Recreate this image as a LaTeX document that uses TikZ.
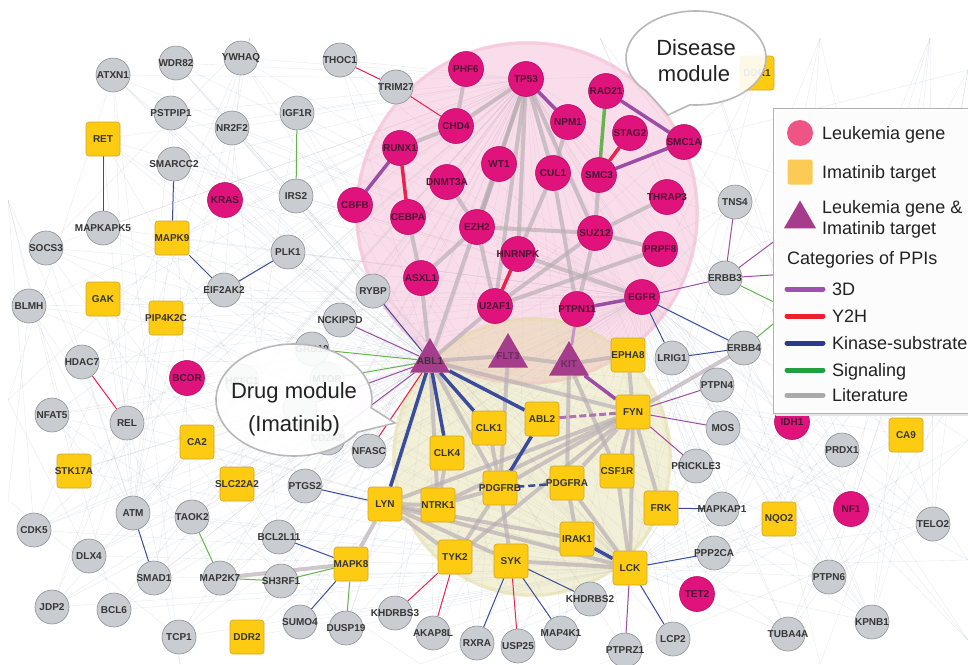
\documentclass[tikz,border=0pt]{standalone}
\usepackage{fontspec}
\setmainfont{Liberation Sans}
\usetikzlibrary{shapes.geometric}
\pgfdeclarelayer{mesh}
\pgfdeclarelayer{disk}
\pgfdeclarelayer{edges}
\pgfdeclarelayer{top}
\pgfsetlayers{mesh,disk,edges,main,top}
\definecolor{gfill}{HTML}{C9CCD0}
\definecolor{gdraw}{HTML}{8C9096}
\definecolor{pfill}{HTML}{E0127B}
\definecolor{pdraw}{HTML}{B01066}
\definecolor{yfill}{HTML}{FDCB12}
\definecolor{ydraw}{HTML}{CFA52C}
\definecolor{tfill}{HTML}{A63C8C}
\definecolor{labc}{HTML}{363636}
\definecolor{plab}{HTML}{4E1434}
\definecolor{tlab}{HTML}{6B2D5E}
\definecolor{c3d}{HTML}{9C4DA5}
\definecolor{cy2h}{HTML}{E8234F}
\definecolor{ckin}{HTML}{3A4C9C}
\definecolor{csig}{HTML}{63B54C}
\definecolor{clit}{HTML}{B8AEB4}
\definecolor{meshc}{HTML}{8E9AAE}
\definecolor{diskp}{HTML}{F3A7C8}
\definecolor{disky}{HTML}{E3DA9E}
\definecolor{legp}{HTML}{EE5584}
\definecolor{legy}{HTML}{FBCB55}
\definecolor{legc}{HTML}{222222}
\definecolor{lg3d}{HTML}{A050B0}
\definecolor{lgy2h}{HTML}{EE2030}
\definecolor{lgkin}{HTML}{2B3990}
\definecolor{lgsig}{HTML}{20A040}
\definecolor{lglit}{HTML}{AAAAAA}
\newcommand{\lf}{\fontsize{10}{11}\selectfont\bfseries}
\newcommand{\zw}[1]{\makebox[0pt]{#1}}
\newcommand{\mkG}[2]{\node[gn] (#1) at (#2) {\zw{#1}};}
\newcommand{\mkP}[2]{\node[pn] (#1) at (#2) {\zw{#1}};}
\newcommand{\mkY}[2]{\node[yn] (#1) at (#2) {\zw{#1}};}
\tikzset{
 gn/.style={circle, draw=gdraw, fill=gfill, line width=0.6pt, minimum size=34pt, inner sep=0pt, font=\lf, text=labc},
 pn/.style={circle, draw=pdraw, fill=pfill, line width=0.6pt, minimum size=35pt, inner sep=0pt, font=\lf, text=plab},
 yn/.style={rectangle, rounded corners=3pt, draw=ydraw, fill=yfill, line width=0.6pt, minimum size=34pt, inner sep=0pt, font=\lf, text=labc},
 tn/.style={regular polygon, regular polygon sides=3, fill=tfill, minimum size=46pt, inner sep=0pt, font=\lf, text=tlab},
 meshln/.style={draw=meshc, line width=0.35pt, opacity=0.22},
 lit/.style={draw=clit, line width=4pt, opacity=0.68},
 tdd/.style={draw=c3d, line width=1pt},
 TDD/.style={draw=c3d, line width=3.5pt},
 yh/.style={draw=cy2h, line width=1pt},
 YH/.style={draw=cy2h, line width=3.5pt},
 kin/.style={draw=ckin, line width=1pt},
 KIN/.style={draw=ckin, line width=3.5pt},
 sig/.style={draw=csig, line width=1pt},
 SIG/.style={draw=csig, line width=3.5pt},
 bubble/.style={fill=white, fill opacity=0.9, draw=black!28, line width=1.6pt},
 bubtxt/.style={font=\fontsize{22}{26}\selectfont, text=legc, anchor=base, inner sep=0pt},
 legtxt/.style={font=\fontsize{18}{20}\selectfont, text=legc, anchor=base west, inner sep=0pt},
 legln/.style={line width=5pt, line cap=round},
}
\begin{document}
\begin{tikzpicture}[x=1pt,y=-1pt]
\useasboundingbox (0,0) rectangle (968,664);
% ---------- nodes ----------
\mkG{ATXN1}{113,75}
\mkG{WDR82}{176,63}
\mkG{YWHAQ}{241,58}
\mkG{THOC1}{340,60}
\mkG{TRIM27}{396,87}
\mkG{PSTPIP1}{171,113}
\mkG{NR2F2}{232,128}
\mkG{IGF1R}{297,113}
\mkG{IRS2}{296,196}
\mkG{SMARCC2}{174,164}
\mkG{MAPKAPK5}{103,228}
\mkG{SOCS3}{46,248}
\mkG{PLK1}{288,252}
\mkG{EIF2AK2}{224,290}
\mkG{BLMH}{29,306}
\mkG{RYBP}{373,291}
\mkG{NCKIPSD}{340,320}
\mkG{GRB10}{312,349}
\mkG{MTOR}{327,379}
\mkG{HCFC1}{242,381}
\mkG{CD2AP}{328,438}
\node[gn] (pnnx) at (300,408) {};
\mkG{HDAC7}{82,362}
\mkG{NFAT5}{52,415}
\mkG{REL}{127,423}
\mkG{NFASC}{369,451}
\mkG{PTGS2}{305,486}
\mkG{ATM}{133,513}
\mkG{TAOK2}{192,517}
\mkG{CDK5}{34,530}
\mkG{BCL2L11}{279,537}
\mkG{DLX4}{89,556}
\mkG{SMAD1}{154,578}
\mkG{MAP2K7}{220,578}
\mkG{SH3RF1}{281,581}
\mkG{JDP2}{52,607}
\mkG{BCL6}{114,610}
\mkG{SUMO4}{300,622}
\mkG{TCP1}{179,637}
\mkG{DUSP19}{346,628}
\mkG{KHDRBS3}{395,613}
\mkG{AKAP8L}{433,633}
\mkG{RXRA}{477,643}
\mkG{USP25}{518,646}
\mkG{MAP4K1}{561,633}
\mkG{KHDRBS2}{590,599}
\mkG{PTPRZ1}{625,650}
\mkG{LCP2}{673,639}
\mkG{PPP2CA}{714,553}
\mkG{TUBA4A}{788,634}
\mkG{KPNB1}{872,622}
\mkG{PTPN6}{829,577}
\mkG{TELO2}{933,524}
\mkG{MAPKAP1}{722,509}
\mkG{PRICKLE3}{696,466}
\mkG{PRDX1}{842,450}
\mkG{MOS}{723,428}
\mkG{PTPN4}{717,385}
\mkG{LRIG1}{672,358}
\mkG{ERBB4}{744,348}
\mkG{ERBB3}{725,278}
\mkG{TNS4}{735,202}
\mkG{VAV3}{803,273}
\mkG{HDAC6}{938,285}
\node[gn] (dapx) at (792,228) {};
\node[gn] (nrgx) at (790,310) {};
\node[gn] (gx1) at (920,350) {};
\node[gn] (gx2) at (947,170) {};
\node[gn] (gx3) at (833,183) {};
\node[pn] (px1) at (858,302) {};
% pink
\mkP{PHF6}{466,69}
\mkP{TP53}{526,79}
\mkP{RAD21}{606,91}
\mkP{CHD4}{456,126}
\mkP{NPM1}{568,122}
\mkP{STAG2}{630,133}
\mkP{SMC1A}{684,142}
\mkP{RUNX1}{400,148}
\mkP{WT1}{499,164}
\mkP{CUL1}{553,173}
\mkP{SMC3}{599,175}
\mkP{DNMT3A}{447,182}
\mkP{THRAP3}{667,197}
\mkP{CBFB}{355,205}
\mkP{CEBPA}{408,217}
\mkP{EZH2}{477,227}
\mkP{SUZ12}{595,233}
\mkP{PRPF8}{660,249}
\mkP{HNRNPK}{518,254}
\mkP{ASXL1}{421,278}
\mkP{U2AF1}{495,306}
\mkP{PTPN11}{577,309}
\mkP{EGFR}{642,297}
\mkP{KRAS}{225,200}
\mkP{BCOR}{187,378}
\mkP{IDH1}{792,422}
\mkP{NF1}{851,509}
\mkP{TET2}{697,594}
% yellow
\mkY{RET}{103,139}
\mkY{MAPK9}{172,238}
\mkY{GAK}{103,299}
\mkY{PIP4K2C}{166,318}
\mkY{CA2}{197,442}
\mkY{STK17A}{74,471}
\mkY{SLC22A2}{237,484}
\mkY{EPHA8}{628,355}
\mkY{CLK1}{489,428}
\mkY{ABL2}{542,419}
\mkY{FYN}{633,412}
\mkY{CLK4}{447,453}
\mkY{CSF1R}{617,471}
\mkY{PDGFRB}{500,488}
\mkY{PDGFRA}{567,483}
\mkY{LYN}{385,504}
\mkY{NTRK1}{438,505}
\mkY{FRK}{661,508}
\mkY{NQO2}{779,519}
\mkY{IRAK1}{577,539}
\mkY{MAPK8}{351,564}
\mkY{TYK2}{455,557}
\mkY{SYK}{511,561}
\mkY{LCK}{630,568}
\mkY{DDR2}{247,637}
\mkY{CA9}{906,435}
\mkY{DDR1}{757,73}
% triangles
\node[tn, text=labc] (ABL1) at (430,361) {\zw{ABL1}};
\node[tn] (FLT3) at (508,356) {\zw{FLT3}};
\node[tn] (KIT) at (569,364) {\zw{KIT}};
% ---------- border points for the background mesh ----------
\coordinate (r1) at (968,70);
\coordinate (r2) at (968,150);
\coordinate (r3) at (968,240);
\coordinate (r4) at (968,300);
\coordinate (r5) at (968,380);
\coordinate (r6) at (968,440);
\coordinate (r7) at (968,560);
\coordinate (r8) at (968,640);
\coordinate (t1) at (820,38);
\coordinate (t2) at (700,38);
\coordinate (t3) at (600,38);
\coordinate (t4) at (250,38);
\coordinate (t5) at (930,38);
\coordinate (l1) at (8,200);
\coordinate (l2) at (8,400);
\coordinate (l3) at (8,500);
\coordinate (bt1) at (420,664);
\coordinate (bt2) at (600,664);
\coordinate (bt3) at (820,664);
\coordinate (bt4) at (180,664);
\begin{pgfonlayer}{mesh}
\fill[white] (0,0) rectangle (968,664);
\begin{scope}
\clip (8,38) rectangle (968,664);
\foreach \a in {ATXN1,WDR82,YWHAQ,THOC1,PSTPIP1,NR2F2,IGF1R,IRS2,RET,SMARCC2,KRAS,MAPKAPK5,MAPK9,SOCS3,PLK1,EIF2AK2,GAK,BLMH,PIP4K2C,HDAC7,BCOR,NFAT5,REL,CA2,STK17A,SLC22A2,PTGS2,ATM,TAOK2,CDK5,BCL2L11,DLX4,SMAD1,MAP2K7,SH3RF1,JDP2,BCL6,SUMO4,TCP1,DDR2,DUSP19,KHDRBS3,AKAP8L,RXRA,USP25,MAP4K1,KHDRBS2,PTPRZ1,LCP2,TET2,PPP2CA,TUBA4A,KPNB1,PTPN6,TELO2,NF1,NQO2,MAPKAP1,PRICKLE3,PRDX1,CA9,IDH1,MOS,PTPN4,TNS4,DDR1,RYBP,NCKIPSD,NFASC}
  \foreach \b in {ABL1,LCK,EGFR,TP53} \draw[meshln] (\a) -- (\b);
\foreach \a in {HDAC7,GAK,MAPK9,RET,PIP4K2C,BLMH,SOCS3,CA2,NFAT5,ATXN1,WDR82}
  \draw[meshln] (\a) -- (ATM);
\foreach \a/\b in {SMC1A/r1,SMC1A/r3,EGFR/r2,EGFR/r5,ERBB3/t1,ERBB3/r6,NF1/t2,NF1/r2,TELO2/t1,TELO2/r3,KPNB1/r1,KPNB1/t3,LCK/r4,LCK/r7,IDH1/r8,CA9/r1,CA9/bt3,PRDX1/t2,TNS4/r7,THRAP3/r4,PTPN6/r2,TUBA4A/r5,NQO2/r3,MAPKAP1/t1,TET2/r6,PPP2CA/r1,PTPN6/t3,KPNB1/r4,TELO2/bt2,NF1/bt1,ATM/t4,ATXN1/l2,SOCS3/t4,BLMH/l3,CDK5/l1,JDP2/t4,HDAC7/l1,DLX4/l2,STK17A/l1,TCP1/l3,KRAS/l2,TELO2/t5,NF1/t5,KPNB1/t5,PRDX1/r8,NQO2/t5,TUBA4A/r2,IDH1/t1,CA9/t3,PTPN6/r6,MOS/r7,PTPN4/r8,ERBB4/bt3,TET2/t5,LCP2/r3,ATXN1/bt4,GAK/bt4,CDK5/t4,NFAT5/bt1,BCL6/l1,SMAD1/t4}
  \draw[meshln] (\a) -- (\b);
\foreach \a/\b in {ATXN1/PLK1,WDR82/IRS2,YWHAQ/EIF2AK2,PSTPIP1/TAOK2,NR2F2/BCL2L11,IGF1R/SLC22A2,RET/PTGS2,SOCS3/SH3RF1,BLMH/MAP2K7,GAK/DUSP19,CDK5/CA2,DLX4/PIP4K2C,JDP2/REL,TELO2/PTPN6,KPNB1/NQO2,NF1/TUBA4A,PRDX1/TET2,CA9/PPP2CA,IDH1/KPNB1,MOS/TELO2}
  \draw[meshln] (\a) -- (\b);
\end{scope}
\end{pgfonlayer}
% ---------- module disks ----------
\begin{pgfonlayer}{disk}
\fill[diskp, opacity=0.38] (527,213) circle[radius=172pt];
\draw[diskp, opacity=0.3, line width=3pt] (527,213) circle[radius=170pt];
\fill[disky, opacity=0.4] (532,457) circle[radius=140pt];
\draw[disky, opacity=0.35, line width=3pt] (532,457) circle[radius=138pt];
\end{pgfonlayer}
% ---------- edges ----------
\begin{pgfonlayer}{edges}
\foreach \a/\b in {PHF6/CHD4,TP53/CHD4,TP53/HNRNPK,TP53/U2AF1,TP53/SUZ12,TP53/CUL1,TP53/EZH2,CHD4/RUNX1,CEBPA/ASXL1,DNMT3A/EZH2,EZH2/ASXL1,EZH2/SUZ12,EZH2/U2AF1,WT1/EZH2,NPM1/CUL1,CUL1/HNRNPK,CUL1/PTPN11,SMC3/SUZ12,SUZ12/THRAP3,SUZ12/PRPF8,SUZ12/U2AF1,SUZ12/PTPN11,HNRNPK/EGFR,U2AF1/PRPF8,ABL1/ASXL1,ABL1/U2AF1,ABL1/TP53,ABL1/FLT3,FLT3/KIT,KIT/EPHA8,ABL1/NTRK1,ABL1/PDGFRB,FLT3/PDGFRB,KIT/PDGFRA,KIT/CSF1R,CLK4/NTRK1,ABL1/FYN,NTRK1/PDGFRB,NTRK1/FYN,PDGFRB/FYN,PDGFRA/FYN,CSF1R/FYN,FYN/LCK,FYN/FRK,FYN/EPHA8,LYN/NTRK1,LYN/TYK2,LYN/SYK,LYN/IRAK1,LYN/LCK,TYK2/PDGFRB,SYK/PDGFRB,SYK/LCK,TYK2/FYN,PDGFRA/LCK,CSF1R/LCK,IRAK1/PDGFRA,LYN/MAPK8,MAP2K7/MAPK8,FYN/ERBB4,LYN/FYN,CLK1/PDGFRB}
  \draw[lit] (\a) -- (\b);
% thin colored
\foreach \a/\b in {THOC1/TRIM27,TRIM27/CHD4,HDAC7/REL,TYK2/KHDRBS3,TYK2/AKAP8L,SYK/USP25,ABL1/NFASC}
  \draw[yh] (\a) -- (\b);
\foreach \a/\b in {IGF1R/IRS2,TAOK2/MAP2K7,MAP2K7/SH3RF1,SH3RF1/MAPK8,MAPK8/DUSP19,ABL1/GRB10,ABL1/MTOR,ERBB3/nrgx,ERBB4/nrgx}
  \draw[sig] (\a) -- (\b);
\foreach \a/\b in {RET/MAPKAPK5,SMARCC2/MAPK9,MAPK9/EIF2AK2,EIF2AK2/PLK1,ATM/SMAD1,PTGS2/LYN,BCL2L11/MAPK8,MAPK8/SUMO4,SYK/RXRA,SYK/KHDRBS2,SYK/MAP4K1,LCK/PPP2CA,LCK/LCP2,FRK/MAPKAP1,EGFR/LRIG1,EGFR/ERBB4,LRIG1/ERBB4,ABL1/RYBP}
  \draw[kin] (\a) -- (\b);
\foreach \a/\b in {FYN/PTPN4,FYN/MOS,FYN/PRICKLE3,EGFR/ERBB3,TNS4/ERBB3,ERBB3/VAV3,ERBB3/dapx,LCK/PTPRZ1,ABL1/NCKIPSD,ABL1/pnnx,ABL1/CD2AP}
  \draw[tdd] (\a) -- (\b);
% thick colored
\foreach \a/\b in {RUNX1/CEBPA,HNRNPK/U2AF1,STAG2/SMC3}
  \draw[YH] (\a) -- (\b);
\draw[SIG] (RAD21) -- (SMC3);
\foreach \a/\b in {ABL1/CLK1,ABL1/CLK4,ABL1/LYN,ABL1/ABL2,ABL2/PDGFRB,IRAK1/LCK}
  \draw[KIN] (\a) -- (\b);
\draw[KIN, line width=2.5pt, dash pattern=on 7pt off 4pt] (PDGFRB) -- (PDGFRA);
\foreach \a/\b in {TP53/NPM1,RAD21/SMC1A,SMC3/SMC1A,RUNX1/CBFB,PTPN11/EGFR,KIT/FYN}
  \draw[TDD] (\a) -- (\b);
\draw[TDD, draw=c3d!60, line width=3pt] (PTPN11) -- (KIT);
\draw[TDD, draw=c3d!80, line width=3pt, dash pattern=on 7pt off 3pt] (ABL2) -- (FYN);
\end{pgfonlayer}
% ---------- callouts and legend ----------
\begin{pgfonlayer}{top}
\draw[bubble] (689.9,104.8) arc[start angle=265, end angle=585, x radius=70pt, y radius=47pt] -- (668,115) -- cycle;
\node[bubtxt] (dis1) at (696,55) {Disease};
\node[bubtxt] (dis2) at (694,81) {module};
\draw[bubble] (371.2,407.8) arc[start angle=-8, end angle=325, x radius=78pt, y radius=56pt] -- (395,423) -- cycle;
\node[bubtxt] (drg1) at (294,398) {Drug module};
\node[bubtxt] (drg2) at (294,431) {(Imatinib)};
\fill[black!10] (776,111) rectangle (975,416);
\draw[fill=white, fill opacity=0.92, draw=black!30, line width=1pt] (773,108) rectangle (975,413);
\node[circle, fill=legp, minimum size=26pt, inner sep=0pt] (lg1) at (800,133) {};
\node[rectangle, rounded corners=2pt, fill=legy, minimum size=25pt, inner sep=0pt] (lg2) at (800,172) {};
\node[regular polygon, regular polygon sides=3, fill=tfill, minimum size=37pt, inner sep=0pt] (lg3) at (800,219) {};
\node[legtxt] (lt1) at (822,139.5) {Leukemia gene};
\node[legtxt] (lt2) at (822,178.5) {Imatinib target};
\node[legtxt] (lt3) at (822,213.5) {Leukemia gene \&};
\node[legtxt] (lt4) at (822,234.5) {Imatinib target};
\node[legtxt] (lt5) at (787,264.5) {Categories of PPIs};
\coordinate (la1) at (787,289); \coordinate (lb1) at (823,289);
\coordinate (la2) at (787,316); \coordinate (lb2) at (823,316);
\coordinate (la3) at (787,343); \coordinate (lb3) at (823,343);
\coordinate (la4) at (787,370); \coordinate (lb4) at (823,370);
\coordinate (la5) at (787,395); \coordinate (lb5) at (823,395);
\draw[legln, lg3d] (la1) -- (lb1);
\draw[legln, lgy2h] (la2) -- (lb2);
\draw[legln, lgkin] (la3) -- (lb3);
\draw[legln, lgsig] (la4) -- (lb4);
\draw[legln, lglit] (la5) -- (lb5);
\node[legtxt] (l3d) at (832,295.5) {3D};
\node[legtxt] (ly2h) at (832,322.5) {Y2H};
\node[legtxt] (lkin) at (832,349.5) {Kinase-substrate};
\node[legtxt] (lsig) at (832,376.5) {Signaling};
\node[legtxt] (llit) at (832,401.5) {Literature};
\end{pgfonlayer}
\end{tikzpicture}
\end{document}
